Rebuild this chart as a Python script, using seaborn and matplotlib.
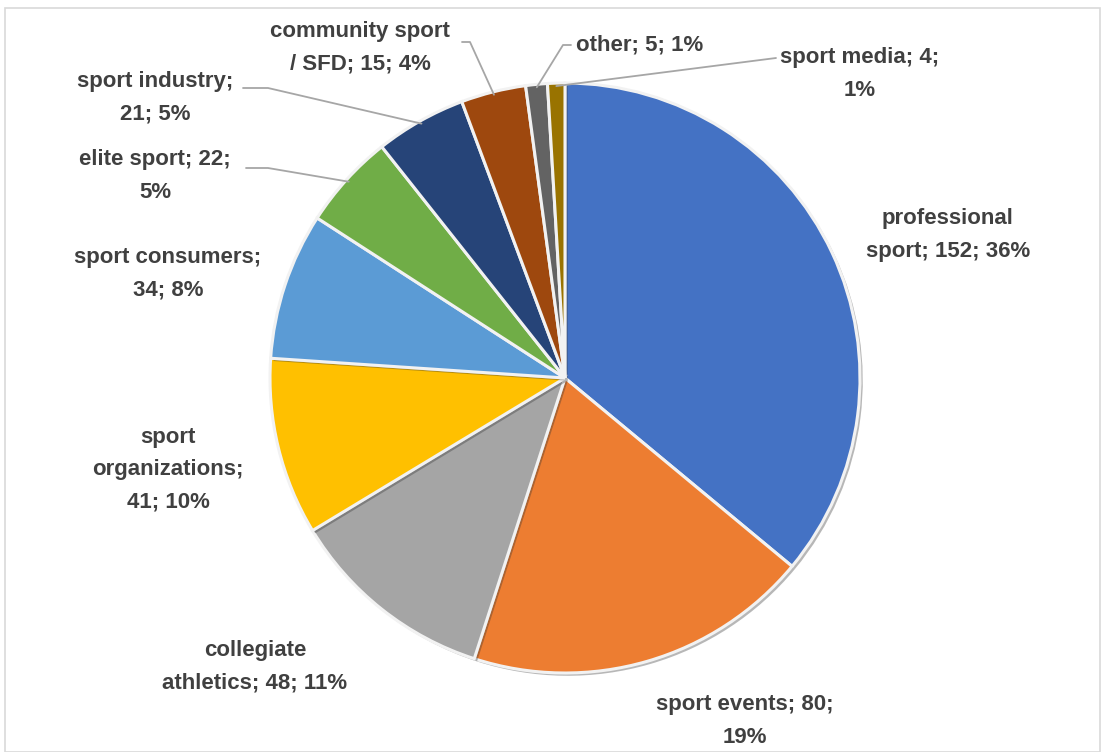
import numpy as np
import matplotlib
matplotlib.use("Agg")
import matplotlib.pyplot as plt
import matplotlib.patheffects as pe
from matplotlib.patches import Rectangle
from matplotlib.lines import Line2D
import seaborn as sns

# ---- data ----
categories = ["professional sport", "sport events", "collegiate athletics",
              "sport organizations", "sport consumers", "elite sport",
              "sport industry", "community sport / SFD", "other", "sport media"]
values = [152, 80, 48, 41, 34, 22, 21, 15, 5, 4]
percents = ["36%", "19%", "11%", "10%", "8%", "5%", "5%", "4%", "1%", "1%"]
label_texts = [
    "professional\nsport; 152; 36%",
    "sport events; 80;\n19%",
    "collegiate\nathletics; 48; 11%",
    "sport\norganizations;\n41; 10%",
    "sport consumers;\n34; 8%",
    "elite sport; 22;\n5%",
    "sport industry;\n21; 5%",
    "community sport\n/ SFD; 15; 4%",
    "other; 5; 1%",
    "sport media; 4;\n1%",
]
colors = ["#4472C4", "#ED7D31", "#A5A5A5", "#FFC000", "#5B9BD5",
          "#70AD47", "#264478", "#9E480E", "#636363", "#997300"]

# ---- layout (pixels, y from top) ----
W, H = 1106, 752
CX, CY, R = 565, 378, 295
label_pos = [(948, 235), (745, 721), (255, 667), (168, 470), (168, 274),
             (155, 176), (155, 98), (360, 48), (640, 45), (860, 74)]
# leader lines: (start point, elbow point) for small slices
leaders = {
    6: [(243, 88), (268, 88)],
    5: [(246, 168), (268, 168)],
    7: [(462, 42), (470, 42)],
    8: [(571, 45), (563, 45)],
    9: [(776, 58), (776, 58)],
}

sns.set_theme(style="white")
plt.rcParams['font.family'] = ['Liberation Sans', 'DejaVu Sans']

fig = plt.figure(figsize=(W / 100, H / 100), dpi=100)
fig.patch.set_facecolor("white")

def fx(x, y):
    return (x / W, 1 - y / H)

ax = fig.add_axes([(CX - R) / W, (H - CY - R) / H, 2 * R / W, 2 * R / H])
wedges, _ = ax.pie(values, colors=colors, startangle=90, counterclock=False,
                   radius=1.0,
                   wedgeprops=dict(edgecolor="#F2F2F2", linewidth=2.2))
for w in wedges:
    w.set_path_effects([pe.SimplePatchShadow(offset=(2, -2), alpha=0.35,
                                             shadow_rgbFace="#333333"),
                        pe.Normal()])
ax.set_xlim(-1.0, 1.0)
ax.set_ylim(-1.0, 1.0)
ax.set_aspect("equal")
ax.axis("off")

# border of chart area
fig.add_artist(Rectangle((5 / W, 0), (1100 - 5) / W, 1 - 8 / H,
                         transform=fig.transFigure, fill=False,
                         edgecolor="#D9D9D9", linewidth=1.2))

# labels
for i, txt in enumerate(label_texts):
    x, y = label_pos[i]
    fig.text(*fx(x, y), txt, ha="center", va="center", fontsize=16,
             fontweight="bold", color="#404040", linespacing=1.7)

# leader lines
total = sum(values)
cum = np.cumsum([0] + values)
for i, pts in leaders.items():
    mid = 90 - 360 * (cum[i] + values[i] / 2) / total
    ex = CX + R * 0.99 * np.cos(np.radians(mid))
    ey = CY - R * 0.99 * np.sin(np.radians(mid))
    xs = [p[0] for p in pts] + [ex]
    ys = [p[1] for p in pts] + [ey]
    fig.add_artist(Line2D([x / W for x in xs], [1 - y / H for y in ys],
                          transform=fig.transFigure, color="#A6A6A6",
                          linewidth=1.3))

fig.savefig("out.png", dpi=100, facecolor="white")
